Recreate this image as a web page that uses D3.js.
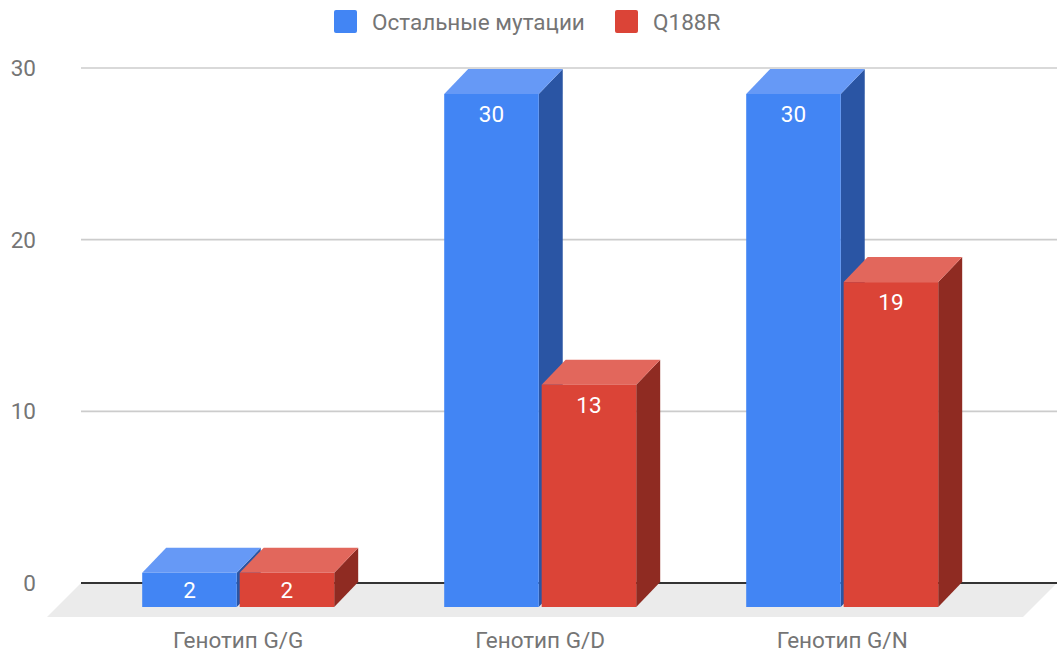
<!DOCTYPE html>
<html>
<head>
<meta charset="utf-8">
<script src="https://cdn.jsdelivr.net/npm/d3@7/dist/d3.min.js"></script>
<style>
  html, body { margin: 0; padding: 0; background: #fff; }
  svg { display: block; font-family: Roboto, sans-serif; }
</style>
</head>
<body>
<svg id="chart" width="1057" height="653"></svg>
<script>
// Values per genotype for each series
const categories = ["Генотип G/G", "Генотип G/D", "Генотип G/N"];
const seriesNames = ["Остальные мутации", "Q188R"];
const otherMutations = [2, 30, 30];
const q188r = [2, 13, 19];
const yTicks = [0, 10, 20, 30];

const palette = [
  { front: "#4285f4", top: "#6699f6", side: "#2a55a4" },
  { front: "#db4437", top: "#e2675c", side: "#8f2b22" }
];
const seriesValues = [otherMutations, q188r];

// Extrusion of the 3D boxes and shared text size
const depthX = 24, depthY = 25;
const fontSize = 22.5;

const svg = d3.select("#chart");

const wallY = d3.scaleLinear().domain([0, 30]).range([583, 68]);
const frontY = d3.scaleLinear().domain([0, 30]).range([607, 94]);
const x0 = d3.scaleBand().domain(categories).range([87.2, 993.2]).paddingInner(110 / 302).paddingOuter(55 / 302);
const x1 = d3.scaleBand().domain(d3.range(seriesNames.length)).range([0, x0.bandwidth()]).paddingInner(0.03);

// Floor
svg.append("polygon")
  .attr("points", [[81, 583], [1057, 583], [1023, 617], [47, 617]].map(p => p.join(",")).join(" "))
  .attr("fill", "#ebebeb");

// Gridlines and value labels on the back wall
svg.append("g").selectAll("line")
  .data(yTicks)
  .join("line")
  .attr("x1", 81).attr("x2", 1057)
  .attr("y1", d => wallY(d)).attr("y2", d => wallY(d))
  .attr("stroke", d => d === 0 ? "#333" : "#ccc")
  .attr("stroke-width", d => d === 0 ? 2 : 1.6);

svg.append("g").selectAll("text")
  .data(yTicks)
  .join("text")
  .attr("x", 36).attr("y", d => wallY(d))
  .attr("dy", "0.35em")
  .attr("text-anchor", "end")
  .attr("fill", "#757575")
  .attr("font-size", fontSize)
  .text(d => d);

// Boxes, one series at a time so the later series overlaps the earlier one
seriesValues.forEach((vals, s) => {
  const g = svg.append("g");
  const boxes = g.selectAll("g")
    .data(vals.map((v, i) => ({ v, cat: categories[i] })))
    .join("g");
  const left = d => x0(d.cat) + x1(s);
  const right = d => left(d) + x1.bandwidth();

  boxes.append("polygon").attr("fill", palette[s].side)
    .attr("points", d => {
      const t = frontY(d.v), b = frontY(0), r = right(d);
      return [[r, t], [r + depthX, t - depthY], [r + depthX, b - depthY], [r, b]].map(p => p.join(",")).join(" ");
    });
  boxes.append("polygon").attr("fill", palette[s].top)
    .attr("points", d => {
      const t = frontY(d.v), l = left(d), r = right(d);
      return [[l, t], [l + depthX, t - depthY], [r + depthX, t - depthY], [r, t]].map(p => p.join(",")).join(" ");
    });
  boxes.append("rect").attr("fill", palette[s].front)
    .attr("x", left)
    .attr("y", d => frontY(d.v))
    .attr("width", x1.bandwidth())
    .attr("height", d => frontY(0) - frontY(d.v));
  // Labels sit near the top of the box, but stay inside short boxes
  boxes.append("text")
    .attr("x", d => left(d) + x1.bandwidth() / 2)
    .attr("y", d => Math.min(frontY(d.v) + 28, frontY(0) - 9))
    .attr("text-anchor", "middle")
    .attr("fill", "#fff")
    .attr("font-size", fontSize)
    .text(d => d.v);
});

// Category labels
svg.append("g").selectAll("text")
  .data(categories)
  .join("text")
  .attr("x", d => x0(d) + x0.bandwidth() / 2)
  .attr("y", 648)
  .attr("text-anchor", "middle")
  .attr("fill", "#757575")
  .attr("font-size", fontSize)
  .text(d => d);

// Legend
const legendX = [334, 615];
const legend = svg.append("g").selectAll("g")
  .data(seriesNames)
  .join("g")
  .attr("transform", (d, i) => `translate(${legendX[i]},10)`);
legend.append("rect")
  .attr("width", 23).attr("height", 23).attr("rx", 2)
  .attr("fill", (d, i) => palette[i].front);
legend.append("text")
  .attr("x", 38).attr("y", 19.5)
  .attr("fill", "#757575")
  .attr("font-size", fontSize)
  .text(d => d);
</script>
</body>
</html>
